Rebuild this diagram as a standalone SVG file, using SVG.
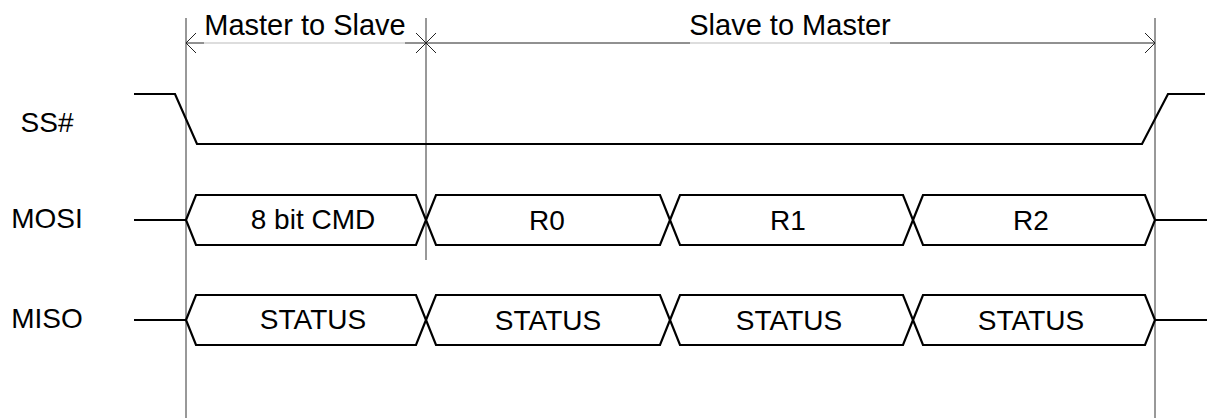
<svg xmlns="http://www.w3.org/2000/svg" width="1208" height="418" viewBox="0 0 1208 418">
<style>
text{font-family:"Liberation Sans",Arial,sans-serif;font-size:28px;fill:#000;text-anchor:middle}
.hdr{font-size:29px}
.wave{fill:none;stroke:#000;stroke-width:2.2;stroke-linejoin:miter}
.dim{stroke:#222;stroke-width:1;fill:none}
.dimlight{stroke:#bbb;stroke-width:1;fill:none}
.guide{stroke:#333;stroke-width:1}
</style>
<defs>
<marker id="arr" markerUnits="userSpaceOnUse" markerWidth="24" markerHeight="24" refX="10" refY="10" orient="auto-start-reverse" overflow="visible">
<path d="M0,0 L10,10 L0,20" fill="none" stroke="#222" stroke-width="1"/>
</marker>
</defs>
<rect width="1208" height="418" fill="#fff"/>
<g id="connectors">
<line class="guide" x1="186" y1="18" x2="186" y2="418"/>
<line class="guide" x1="426" y1="18" x2="426" y2="260"/>
<line class="guide" x1="1155" y1="18" x2="1155" y2="418"/>
<line class="dim" x1="186" y1="43" x2="204" y2="43" marker-start="url(#arr)"/>
<line class="dimlight" x1="204" y1="43" x2="405" y2="43"/>
<line class="dim" x1="405" y1="43" x2="426" y2="43" marker-end="url(#arr)"/>
<line class="dim" x1="426" y1="43" x2="690" y2="43" marker-start="url(#arr)"/>
<line class="dimlight" x1="690" y1="43" x2="890" y2="43"/>
<line class="dim" x1="890" y1="43" x2="1155" y2="43" marker-end="url(#arr)"/>
</g>
<g id="header-m2s"><text class="hdr" x="305" y="35">Master to Slave</text></g>
<g id="header-s2m"><text class="hdr" x="790" y="35">Slave to Master</text></g>
<g id="ss">
<text x="47" y="132">SS#</text>
<path class="wave" d="M134,94 L175,94 L197,144 L1142,144 L1168,94 L1205,94"/>
</g>
<g id="mosi">
<text x="47" y="228">MOSI</text>
<path class="wave" d="M134,220 L186,220 M1155,220 L1207,220"/>
<path class="wave" d="M186,220 L196,195 L416,195 L426,220 L416,245 L196,245 Z"/>
<path class="wave" d="M426,220 L436,195 L660,195 L670,220 L660,245 L436,245 Z"/>
<path class="wave" d="M670,220 L680,195 L903,195 L913,220 L903,245 L680,245 Z"/>
<path class="wave" d="M913,220 L923,195 L1145,195 L1155,220 L1145,245 L923,245 Z"/>
<text x="313" y="229">8 bit CMD</text>
<text x="547" y="230">R0</text>
<text x="788" y="230">R1</text>
<text x="1031" y="230">R2</text>
</g>
<g id="miso">
<text x="47" y="328">MISO</text>
<path class="wave" d="M134,320 L186,320 M1155,320 L1207,320"/>
<path class="wave" d="M186,320 L196,295 L416,295 L426,320 L416,345 L196,345 Z"/>
<path class="wave" d="M426,320 L436,295 L660,295 L670,320 L660,345 L436,345 Z"/>
<path class="wave" d="M670,320 L680,295 L903,295 L913,320 L903,345 L680,345 Z"/>
<path class="wave" d="M913,320 L923,295 L1145,295 L1155,320 L1145,345 L923,345 Z"/>
<text x="313" y="329">STATUS</text>
<text x="548" y="330">STATUS</text>
<text x="789" y="330">STATUS</text>
<text x="1031" y="330">STATUS</text>
</g>
</svg>
